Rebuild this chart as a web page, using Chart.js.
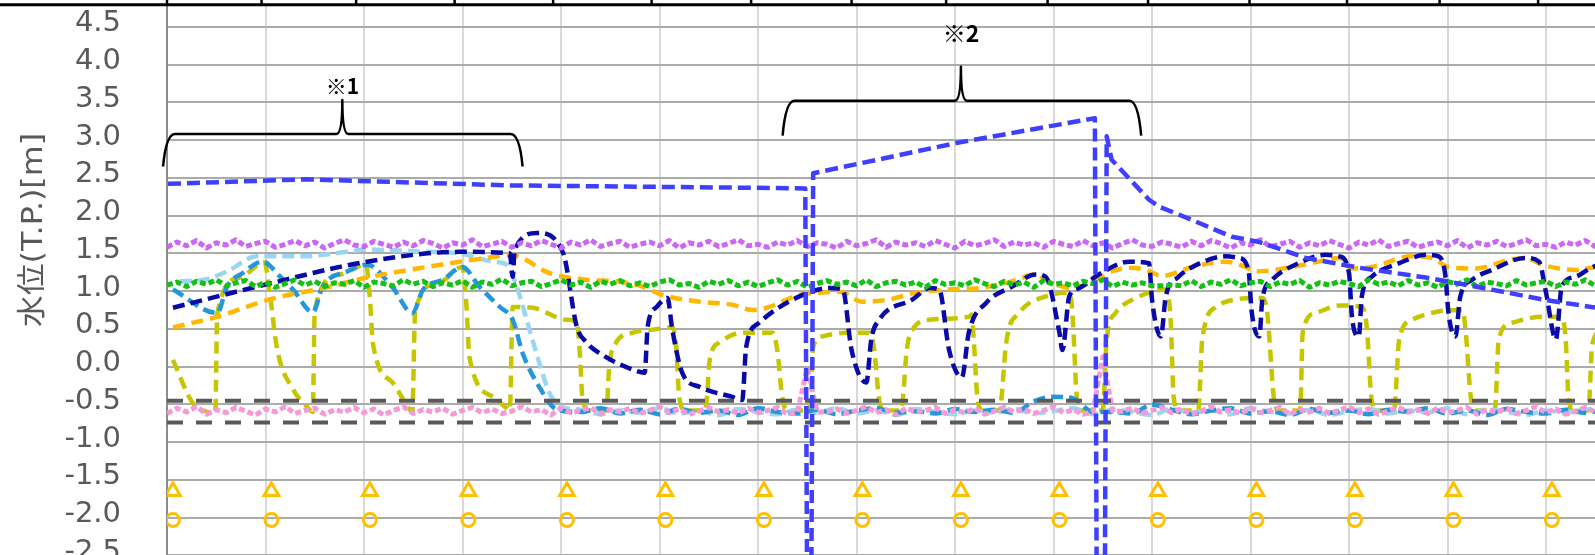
<!DOCTYPE html>
<html><head><meta charset="utf-8">
<script src="https://cdn.jsdelivr.net/npm/chart.js@4.4.1/dist/chart.umd.min.js"></script>
<style>
html,body{margin:0;padding:0;background:#fff;overflow:hidden;width:1595px;height:555px;}
#wrap{position:absolute;left:0;top:-31px;width:1656px;height:682px;}
</style></head><body>
<div id="wrap"><canvas id="c"></canvas></div>
<script>
// ---- data (x in days, y in m T.P.) ----
const yTitle = '水位(T.P.)[m]';
const yTickStep = 0.5;

const upstreamBlue = [[0.01,2.42],[1.40,2.48],[3.47,2.40],[5.81,2.37],[6.48,2.36],[6.50,-3.4],[6.54,-3.4],[6.56,2.56],[8.01,2.96],[9.42,3.29],[9.44,-3.4],[9.52,-3.4],[9.54,3.05],[9.59,2.74],[9.97,2.21],[10.07,2.12],[10.41,1.94],[10.81,1.72],[11.09,1.65],[11.56,1.44],[12.10,1.31],[12.78,1.18],[13.45,1.02],[13.96,0.89],[14.46,0.79],[15.0,0.70]];

const navyLevel = [[0.06,0.78],[1.04,1.10],[2.03,1.39],[2.97,1.52],[3.48,1.50],[3.51,1.19],[3.53,1.55],[3.76,1.77],[4.02,1.51],[4.16,0.53],[4.26,0.32],[4.39,0.18],[4.73,-0.04],[4.85,-0.08],[4.88,0.53],[4.97,0.79],[5.08,0.91],[5.13,0.49],[5.23,-0.08],[5.41,-0.27],[5.74,-0.40],[5.84,-0.44],[5.88,0.26],[6.01,0.58],[6.42,0.93],[6.72,1.04],[6.86,1.02],[6.95,0.22],[7.10,-0.21],[7.15,0.36],[7.23,0.62],[7.57,0.89],[7.74,1.04],[7.84,1.02],[7.94,0.22],[8.07,-0.14],[8.14,0.45],[8.32,0.85],[8.58,1.06],[8.82,1.22],[8.92,1.19],[9.06,0.45],[9.09,0.22],[9.16,0.93],[9.26,1.04],[9.46,1.22],[9.77,1.39],[9.97,1.37],[10.00,0.89],[10.09,0.40],[10.14,0.93],[10.27,1.19],[10.41,1.32],[10.75,1.46],[10.88,1.44],[10.98,1.28],[11.01,0.75],[11.09,0.40],[11.12,0.89],[11.22,1.15],[11.49,1.37],[11.76,1.48],[11.90,1.46],[12.00,1.24],[12.03,0.66],[12.10,0.40],[12.13,0.93],[12.23,1.19],[12.51,1.37],[12.78,1.48],[12.91,1.46],[12.98,1.19],[13.01,0.71],[13.08,0.40],[13.13,0.93],[13.25,1.15],[13.45,1.28],[13.79,1.44],[13.93,1.39],[14.00,0.98],[14.10,0.36],[14.16,1.06],[14.30,1.19],[14.46,1.31],[14.80,1.44],[15.0,1.40]];

const orangeLevel = [[0.06,0.52],[0.51,0.66],[1.04,0.89],[1.62,1.05],[2.03,1.18],[2.64,1.32],[3.14,1.42],[3.51,1.47],[3.88,1.24],[4.26,1.15],[4.56,1.13],[4.83,1.06],[5.03,0.95],[5.41,0.86],[5.74,0.82],[5.94,0.75],[6.09,0.78],[6.42,0.95],[6.55,0.97],[6.83,0.99],[7.06,0.86],[7.33,0.89],[7.57,0.97],[7.91,1.02],[8.25,1.04],[8.58,1.13],[8.82,1.22],[8.92,1.15],[9.19,1.04],[9.43,1.15],[9.59,1.26],[9.77,1.31],[9.94,1.28],[10.10,1.20],[10.41,1.32],[10.75,1.39],[10.95,1.32],[11.05,1.26],[11.42,1.32],[11.69,1.39],[11.90,1.44],[12.03,1.30],[12.23,1.32],[12.64,1.46],[12.84,1.44],[13.01,1.32],[13.29,1.30],[13.62,1.41],[13.79,1.44],[13.96,1.35],[14.30,1.28],[14.46,1.31],[15.0,1.38]];

const oliveLevel = [[0.06,0.09],[0.26,-0.48],[0.41,-0.60],[0.49,-0.62],[0.51,0.70],[0.74,1.18],[0.99,1.38],[1.04,1.00],[1.12,0.22],[1.28,-0.30],[1.42,-0.53],[1.48,-0.60],[1.50,0.75],[1.75,1.22],[2.02,1.35],[2.06,0.90],[2.09,0.31],[2.29,-0.21],[2.43,-0.50],[2.49,-0.60],[2.52,0.75],[2.77,1.12],[3.00,1.32],[3.04,0.80],[3.07,0.13],[3.31,-0.40],[3.45,-0.55],[3.48,-0.58],[3.51,0.79],[3.71,0.78],[4.06,0.62],[4.16,0.59],[4.19,0.20],[4.22,-0.44],[4.29,-0.58],[4.46,-0.58],[4.49,0.00],[4.56,0.32],[4.73,0.45],[4.93,0.49],[5.13,0.52],[5.17,0.26],[5.20,-0.40],[5.26,-0.58],[5.46,-0.58],[5.48,-0.44],[5.51,0.09],[5.61,0.32],[5.84,0.45],[6.15,0.45],[6.20,0.18],[6.24,-0.34],[6.29,-0.58],[6.52,-0.58],[6.54,-0.27],[6.56,0.26],[6.65,0.40],[6.90,0.45],[7.13,0.45],[7.18,0.22],[7.23,-0.44],[7.28,-0.58],[7.45,-0.58],[7.47,-0.44],[7.51,0.22],[7.57,0.49],[7.74,0.62],[8.14,0.66],[8.17,0.69],[8.19,0.36],[8.23,-0.44],[8.28,-0.58],[8.45,-0.58],[8.47,-0.44],[8.52,0.32],[8.65,0.71],[8.92,0.93],[9.16,0.98],[9.19,0.75],[9.24,-0.44],[9.29,-0.58],[9.50,-0.58],[9.51,-0.44],[9.54,0.36],[9.63,0.71],[9.84,0.91],[10.14,1.02],[10.19,0.60],[10.22,-0.40],[10.27,-0.58],[10.47,-0.58],[10.48,-0.44],[10.51,0.36],[10.65,0.79],[10.85,0.89],[11.12,0.91],[11.17,0.71],[11.24,-0.44],[11.29,-0.58],[11.50,-0.58],[11.51,-0.44],[11.53,0.45],[11.66,0.71],[11.90,0.81],[12.13,0.79],[12.18,0.53],[12.23,-0.44],[12.28,-0.58],[12.46,-0.58],[12.47,-0.44],[12.51,0.36],[12.64,0.62],[12.91,0.73],[13.15,0.75],[13.18,0.53],[13.24,-0.44],[13.29,-0.58],[13.48,-0.58],[13.49,-0.44],[13.52,0.36],[13.65,0.58],[13.96,0.66],[14.16,0.66],[14.20,0.36],[14.23,-0.44],[14.28,-0.58],[14.43,-0.58],[14.44,-0.44],[14.47,0.30],[14.63,0.55],[15.0,0.65]];

const cyanHead = [[0.06,1.02],[0.51,0.71],[0.61,1.06],[0.77,1.24],[0.97,1.39],[1.15,1.19],[1.28,1.02],[1.48,0.72],[1.58,1.06],[1.83,1.26],[2.03,1.35],[2.29,1.05],[2.49,0.71],[2.60,1.02],[2.80,1.15],[3.00,1.32],[3.17,1.06],[3.38,0.79],[3.51,0.62],[3.61,0.18],[3.78,-0.27],[3.96,-0.57]];
const lightBlueHead = [[0.13,1.13],[0.37,1.15],[0.61,1.26],[0.91,1.46],[1.38,1.46],[1.83,1.52],[2.03,1.55],[2.64,1.52],[2.97,1.50],[3.31,1.39],[3.45,1.35],[3.55,1.06],[3.68,0.49],[3.78,0.05],[3.88,-0.34],[3.99,-0.53]];

const tailStart = 4.2, tailStep = 0.2;
const cyanTail = [-0.60,-0.55,-0.62,-0.57,-0.63,-0.56,-0.61,-0.58,-0.64,-0.55,
-0.60,-0.62,-0.57,-0.63,-0.58,-0.55,-0.61,-0.59,-0.62,-0.56,
-0.60,-0.57,-0.61,-0.46,-0.40,-0.42,-0.60,-0.60,-0.62,-0.50,
-0.57,-0.63,-0.58,-0.55,-0.62,-0.59,-0.64,-0.56,-0.61,-0.58,
-0.63,-0.57,-0.60,-0.55,-0.62,-0.58,-0.64,-0.56,-0.60,-0.62,
-0.57,-0.61,-0.58,-0.63,-0.59];
const lightBlueTail = [-0.57,-0.63,-0.58,-0.61,-0.55,-0.62,-0.59,-0.64,-0.56,-0.60,
-0.63,-0.57,-0.61,-0.55,-0.62,-0.58,-0.64,-0.56,-0.60,-0.63,
-0.58,-0.61,-0.56,-0.62,-0.59,-0.55,-0.63,-0.57,-0.60,-0.64,
-0.56,-0.61,-0.58,-0.63,-0.55,-0.60,-0.62,-0.57,-0.64,-0.59,
-0.56,-0.62,-0.58,-0.61,-0.55,-0.63,-0.57,-0.60,-0.64,-0.58,
-0.61,-0.56,-0.62,-0.59,-0.63];

const noiseStep = 0.1;
const greenLevel = [1.08,1.12,1.06,1.13,1.09,1.15,1.07,1.11,1.14,1.06,
1.12,1.05,1.10,1.15,1.08,1.13,1.06,1.11,1.09,1.14,
1.05,1.12,1.10,1.07,1.15,1.09,1.13,1.06,1.11,1.08,
1.14,1.05,1.12,1.09,1.16,1.07,1.11,1.13,1.06,1.10,
1.15,1.08,1.12,1.05,1.13,1.09,1.14,1.07,1.11,1.06,
1.12,1.15,1.08,1.10,1.05,1.13,1.09,1.14,1.07,1.12,
1.06,1.11,1.15,1.08,1.13,1.05,1.10,1.14,1.09,1.12,
1.07,1.15,1.06,1.11,1.13,1.08,1.12,1.05,1.14,1.09,
1.11,1.07,1.15,1.10,1.06,1.13,1.08,1.12,1.05,1.14,
1.09,1.11,1.07,1.13,1.10,1.15,1.06,1.12,1.08,1.11,
1.07,1.07,1.08,1.07,1.14,1.06,1.12,1.09,1.15,1.07,
1.11,1.13,1.06,1.12,1.09,1.14,1.05,1.11,1.08,1.13,
1.10,1.06,1.15,1.09,1.12,1.07,1.14,1.08,1.11,1.05,
1.13,1.09,1.15,1.06,1.12,1.10,1.07,1.14,1.08,1.11,
1.13,1.06,1.12,1.09,1.15,1.07,1.11,1.08,1.14,1.10];
const magentaLevel = [1.58,1.65,1.60,1.67,1.57,1.64,1.61,1.68,1.59,1.63,
1.66,1.58,1.62,1.67,1.60,1.65,1.57,1.63,1.68,1.61,
1.59,1.66,1.62,1.58,1.65,1.60,1.67,1.63,1.57,1.64,
1.61,1.68,1.59,1.62,1.66,1.58,1.64,1.60,1.67,1.62,
1.57,1.65,1.61,1.68,1.59,1.63,1.66,1.58,1.62,1.65,
1.60,1.67,1.57,1.64,1.61,1.66,1.59,1.63,1.68,1.60,
1.62,1.58,1.65,1.61,1.67,1.59,1.64,1.62,1.57,1.66,
1.60,1.63,1.68,1.58,1.65,1.61,1.64,1.59,1.67,1.62,
1.57,1.66,1.60,1.63,1.68,1.59,1.65,1.61,1.64,1.58,
1.66,1.62,1.59,1.67,1.60,1.64,1.57,1.63,1.68,1.61,
1.59,1.65,1.62,1.58,1.66,1.60,1.67,1.63,1.57,1.64,
1.61,1.68,1.59,1.62,1.66,1.58,1.64,1.60,1.67,1.62,
1.57,1.65,1.61,1.68,1.59,1.63,1.66,1.58,1.62,1.65,
1.60,1.67,1.57,1.64,1.61,1.66,1.59,1.63,1.68,1.60,
1.62,1.58,1.65,1.61,1.67,1.59,1.64,1.62,1.57,1.66];
const pinkLevel = [-0.62,-0.55,-0.60,-0.53,-0.63,-0.57,-0.61,-0.54,-0.59,-0.64,
-0.56,-0.60,-0.53,-0.62,-0.58,-0.55,-0.63,-0.57,-0.60,-0.54,
-0.61,-0.56,-0.64,-0.58,-0.53,-0.62,-0.57,-0.60,-0.55,-0.63,
-0.58,-0.54,-0.61,-0.56,-0.62,-0.59,-0.53,-0.60,-0.57,-0.64,
-0.55,-0.61,-0.58,-0.54,-0.63,-0.57,-0.60,-0.55,-0.62,-0.58,
-0.53,-0.61,-0.56,-0.63,-0.59,-0.54,-0.60,-0.57,-0.62,-0.55,
-0.61,-0.58,-0.54,-0.63,-0.60,-0.02,-0.60,-0.60,-0.56,-0.62,
-0.58,-0.53,-0.61,-0.57,-0.64,-0.55,-0.60,-0.58,-0.54,-0.62,
-0.57,-0.61,-0.55,-0.63,-0.59,-0.54,-0.60,-0.56,-0.62,-0.58,
-0.53,-0.61,-0.57,-0.63,-0.60,0.13,-0.59,-0.59,-0.55,-0.62,
-0.58,-0.54,-0.61,-0.56,-0.63,-0.59,-0.53,-0.60,-0.57,-0.62,
-0.55,-0.61,-0.58,-0.54,-0.63,-0.57,-0.60,-0.55,-0.62,-0.58,
-0.53,-0.61,-0.56,-0.63,-0.59,-0.54,-0.60,-0.57,-0.62,-0.55,
-0.61,-0.58,-0.54,-0.63,-0.57,-0.60,-0.55,-0.62,-0.58,-0.53,
-0.61,-0.56,-0.63,-0.59,-0.54,-0.60,-0.57,-0.62,-0.55,-0.61];

const refUpper = [[0,-0.45],[15,-0.45]];
const refLower = [[0,-0.74],[15,-0.74]];

const markerDays = [0.06,1.06,2.06,3.06,4.06,5.06,6.06,7.06,8.06,9.06,10.06,11.06,12.06,13.06,14.06];
const triangleLevel = [-1.65,-1.65,-1.65,-1.65,-1.65,-1.65,-1.65,-1.65,-1.65,-1.65,-1.65,-1.65,-1.65,-1.65,-1.65];
const circleLevel = [-2.03,-2.03,-2.03,-2.03,-2.03,-2.03,-2.03,-2.03,-2.03,-2.03,-2.03,-2.03,-2.03,-2.03,-2.03];

const braces = [
  {label:'※1', from:-0.04, to:3.61, mid:1.78, top:3.08, end:2.65, spike:3.53, labelAt:3.72, size:21},
  {label:'※2', from:6.25, to:9.89, mid:8.06, top:3.52, end:3.06, spike:3.97, labelAt:4.41, size:23}
];
const topAxisTicks = [0,0.96,1.92,2.92,3.92,4.92,5.93,6.95,7.91,8.94,9.96,10.99,11.98,12.92,13.92];

// ---- build ----
const pts = a => a.map(([x,y]) => ({x, y}));
const stepPts = (start, step, vals) => vals.map((v,i) => ({x: +(start + i*step).toFixed(3), y: v}));
const zip = (xs, ys) => xs.map((x,i) => ({x, y: ys[i]}));

function lineDS(label, data, color, width, dash, extra) {
  return Object.assign({label, data, borderColor: color, backgroundColor: color, borderWidth: width,
    borderDash: dash, pointRadius: 0, pointHoverRadius: 0, fill: false, tension: 0,
    borderCapStyle: 'butt', borderJoinStyle: 'round'}, extra || {});
}
const mono = {cubicInterpolationMode: 'monotone'};

const datasets = [
  {label:'tri', data: zip(markerDays, triangleLevel), showLine:false, pointStyle:'triangle', pointRadius:8.5,
   pointBorderWidth:3, pointBorderColor:'#FFC000', pointBackgroundColor:'rgba(0,0,0,0)', borderColor:'#FFC000'},
  {label:'cir', data: zip(markerDays, circleLevel), showLine:false, pointStyle:'circle', pointRadius:6.5,
   pointBorderWidth:3, pointBorderColor:'#FFC000', pointBackgroundColor:'rgba(0,0,0,0)', borderColor:'#FFC000'},
  lineDS('upstream', pts(upstreamBlue), '#3F3FFF', 4.5, [13,6]),
  lineDS('ref1', pts(refUpper), '#595959', 4, [16,13]),
  lineDS('ref2', pts(refLower), '#595959', 4, [16,13]),
  lineDS('pink', stepPts(0, noiseStep, pinkLevel), '#F59AD6', 5, [6,3]),
  lineDS('magenta', stepPts(0, noiseStep, magentaLevel), '#CC66F5', 5, [6,3]),
  lineDS('green', stepPts(0, noiseStep, greenLevel), '#14C014', 5, [6,3]),
  lineDS('navy', pts(navyLevel), '#0A0AA8', 4.5, [12,6], mono),
  lineDS('orange', pts(orangeLevel), '#FFB800', 4.5, [12,7], mono),
  lineDS('cyan', pts(cyanHead).concat(stepPts(tailStart, tailStep, cyanTail)), '#2596DA', 4.5, [12,6], mono),
  lineDS('lightblue', pts(lightBlueHead).concat(stepPts(tailStart, tailStep, lightBlueTail)), '#9AD6F2', 4.5, [12,6], mono),
  lineDS('olive', pts(oliveLevel), '#C6C600', 4.5, [12,7], mono)
];

const overlay = {
  id: 'overlay',
  afterDraw(chart) {
    const {ctx, scales: {x, y}} = chart;
    // braces + notes
    ctx.save();
    ctx.strokeStyle = '#000'; ctx.lineWidth = 2.5; ctx.lineJoin = 'round';
    braces.forEach(b => {
      const x0 = x.getPixelForValue(b.from), x1 = x.getPixelForValue(b.to), xm = x.getPixelForValue(b.mid);
      const yt = y.getPixelForValue(b.top), ye = y.getPixelForValue(b.end), ys = y.getPixelForValue(b.spike);
      ctx.beginPath();
      ctx.moveTo(x0, ye);
      ctx.quadraticCurveTo(x0 + 3, yt, x0 + 12, yt);
      ctx.lineTo(xm - 6, yt);
      ctx.quadraticCurveTo(xm, yt, xm, ys);
      ctx.quadraticCurveTo(xm, yt, xm + 6, yt);
      ctx.lineTo(x1 - 12, yt);
      ctx.quadraticCurveTo(x1 - 3, yt, x1, ye);
      ctx.stroke();
      ctx.fillStyle = '#000';
      ctx.font = 'bold ' + b.size + 'px "Noto Sans CJK JP", sans-serif';
      ctx.textAlign = 'center'; ctx.textBaseline = 'middle';
      ctx.fillText(b.label, xm, y.getPixelForValue(b.labelAt));
    });
    ctx.restore();
    // y-axis title
    ctx.save();
    ctx.fillStyle = '#595959';
    ctx.font = '29px "DejaVu Sans", "Noto Sans CJK JP", sans-serif';
    const tw = ctx.measureText(yTitle).width;
    ctx.translate(34, y.getPixelForValue(1.81));
    ctx.rotate(-Math.PI / 2);
    ctx.scale(194 / tw, 1);
    ctx.textAlign = 'center'; ctx.textBaseline = 'middle';
    ctx.fillText(yTitle, 0, 0);
    ctx.restore();
    // neighbouring axis line at the very top
    ctx.save();
    const yl = y.getPixelForValue(4.79);
    ctx.fillStyle = '#fff';
    ctx.fillRect(0, 0, chart.width, yl - 1);
    ctx.strokeStyle = '#000'; ctx.lineWidth = 3;
    ctx.beginPath(); ctx.moveTo(0, yl); ctx.lineTo(chart.width, yl); ctx.stroke();
    ctx.lineWidth = 2.5;
    topAxisTicks.forEach(d => {
      const px = x.getPixelForValue(d);
      ctx.beginPath(); ctx.moveTo(px, yl); ctx.lineTo(px, yl - 8); ctx.stroke();
    });
    ctx.restore();
  }
};

new Chart(document.getElementById('c'), {
  type: 'line',
  data: {datasets},
  options: {
    responsive: true, maintainAspectRatio: false, animation: false,
    layout: {padding: {top: 20, bottom: 20, left: 0, right: 10}},
    plugins: {legend: {display: false}, tooltip: {enabled: false}},
    events: [],
    scales: {
      x: {type: 'linear', min: 0, max: 15,
          ticks: {display: false, stepSize: 1},
          grid: {color: '#D9D9D9', lineWidth: 2, drawTicks: false},
          border: {display: false},
          afterFit(s) { s.height = 0; s.paddingLeft = 0; s.paddingRight = 0; }},
      y: {type: 'linear', min: -3.5, max: 5,
          ticks: {stepSize: yTickStep, autoSkip: false, padding: 46, labelOffset: -3, color: '#595959',
                  font: {family: 'DejaVu Sans', size: 29}, callback: v => Number(v).toFixed(1)},
          grid: {color: '#ABABAB', lineWidth: 2, drawTicks: false},
          border: {display: true, color: '#8C8C8C', width: 2},
          afterFit(s) { s.width = 167; s.paddingTop = 0; s.paddingBottom = 0; }}
    }
  },
  plugins: [overlay]
});
</script></body></html>
